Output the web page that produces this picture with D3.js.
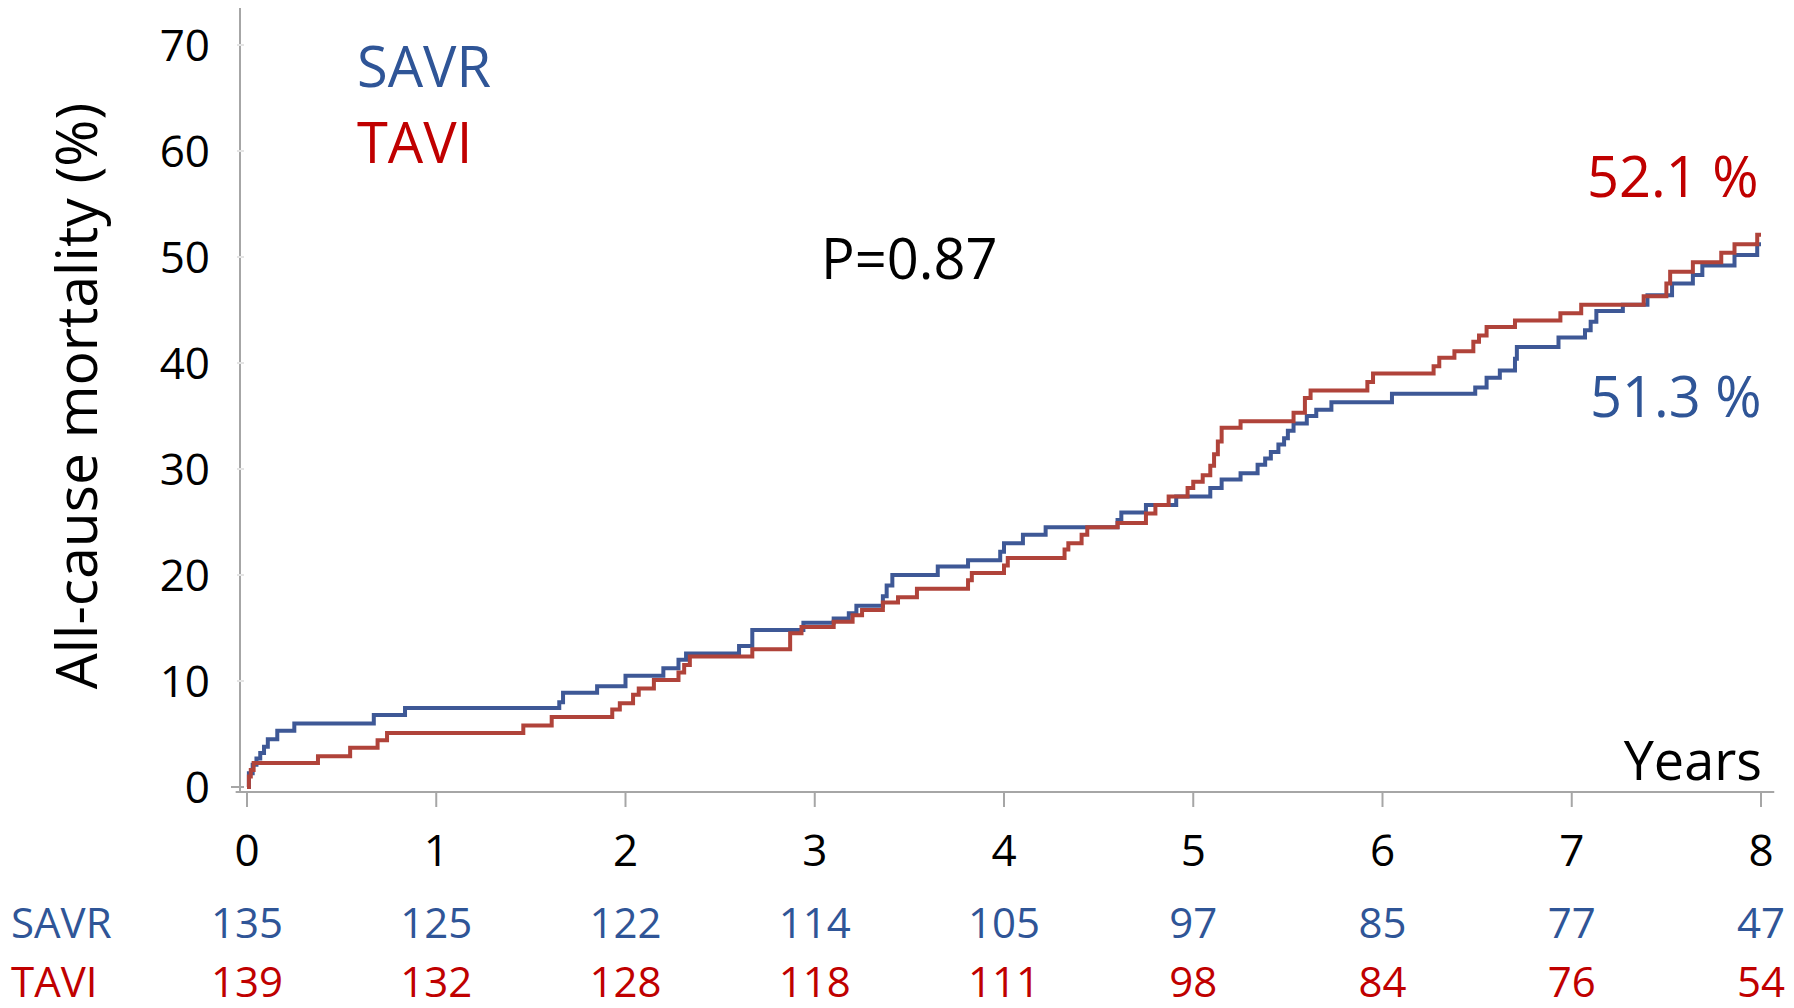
<!DOCTYPE html>
<html>
    <head>
        <script src="https://cdnjs.cloudflare.com/ajax/libs/d3/7.8.5/d3.min.js"></script>
        <title>All-cause mortality</title>

        <style>

            html, body {
                height: 100%;
                margin: 0;
                background-color: white;
            }

            .svg_canvas {
                display: block;
                font-family: "Open Sans", "DejaVu Sans", sans-serif;
            }

        </style>
    </head>
    <body>
        <svg height="1008" width="1794" class="svg_canvas">
        </svg>

        <script>

            // Kaplan-Meier steps: [years, mortality %]
            var savrSteps = [
                [0, 0], [0.01, 1.3], [0.03, 2.1], [0.05, 2.7], [0.07, 3.2], [0.09, 3.8], [0.11, 4.5],
                [0.16, 5.3], [0.25, 6.0], [0.67, 6.8], [0.835, 7.45], [1.65, 8.0], [1.67, 8.9],
                [1.85, 9.5], [2.0, 10.5], [2.2, 11.2], [2.28, 12.0], [2.32, 12.6], [2.60, 13.3],
                [2.67, 14.8], [2.94, 15.5], [3.10, 15.9], [3.18, 16.4], [3.22, 17.1], [3.36, 18.0],
                [3.38, 19.0], [3.41, 20.0], [3.65, 20.8], [3.81, 21.4], [3.98, 22.2], [4.0, 23.0],
                [4.10, 23.8], [4.22, 24.5], [4.60, 25.2], [4.62, 25.9], [4.75, 26.6], [4.91, 27.4],
                [5.09, 28.2], [5.15, 29.0], [5.25, 29.6], [5.34, 30.4], [5.38, 31.0], [5.41, 31.6],
                [5.45, 32.3], [5.48, 32.9], [5.50, 33.6], [5.53, 34.3], [5.60, 35.0], [5.65, 35.6],
                [5.73, 36.3], [6.05, 37.1], [6.49, 37.7], [6.55, 38.6], [6.62, 39.3], [6.70, 40.4],
                [6.71, 41.5], [6.93, 42.4], [7.07, 43.1], [7.10, 43.9], [7.13, 44.9], [7.27, 45.5],
                [7.40, 46.4], [7.53, 47.5], [7.64, 48.3], [7.69, 49.2], [7.86, 50.2], [7.98, 51.2],
                [8.0, 51.2]
            ];

            var taviSteps = [
                [0, 0], [0.01, 1.0], [0.02, 1.6], [0.035, 2.26], [0.375, 2.9], [0.545, 3.7],
                [0.69, 4.4], [0.74, 5.1], [1.46, 5.8], [1.61, 6.6], [1.93, 7.3], [1.97, 7.9],
                [2.04, 8.7], [2.07, 9.3], [2.15, 10.1], [2.28, 10.8], [2.31, 11.5], [2.34, 12.3],
                [2.67, 13.0], [2.87, 14.5], [2.93, 15.1], [3.10, 15.6], [3.20, 16.2], [3.25, 16.7],
                [3.36, 17.4], [3.44, 17.9], [3.54, 18.7], [3.81, 19.5], [3.83, 20.2], [4.0, 20.9],
                [4.02, 21.6], [4.32, 22.4], [4.34, 23.0], [4.41, 23.8], [4.44, 24.5], [4.60, 24.9],
                [4.75, 25.8], [4.80, 26.6], [4.87, 27.4], [4.97, 28.2], [5.0, 28.8], [5.05, 29.4],
                [5.09, 30.3], [5.11, 31.4], [5.13, 32.6], [5.15, 33.9], [5.25, 34.5], [5.53, 35.3],
                [5.59, 36.7], [5.62, 37.4], [5.92, 38.2], [5.95, 39.0], [6.27, 39.7], [6.30, 40.5],
                [6.38, 41.1], [6.48, 42.0], [6.51, 42.6], [6.55, 43.4], [6.70, 44.0], [6.94, 44.7],
                [7.05, 45.5], [7.38, 46.3], [7.50, 47.5], [7.52, 48.6], [7.64, 49.5], [7.79, 50.4],
                [7.86, 51.2], [7.98, 52.1], [8.0, 52.1]
            ];

            var yearTicks = [0, 1, 2, 3, 4, 5, 6, 7, 8];
            var mortalityTicks = [0, 10, 20, 30, 40, 50, 60, 70];

            var atRiskSavr = [135, 125, 122, 114, 105, 97, 85, 77, 47];
            var atRiskTavi = [139, 132, 128, 118, 111, 98, 84, 76, 54];

            var finalLabels = ["52.1 %", "51.3 %"];

            var blueText = "#2f5597",
                redText = "#c00000",
                blueLine = "#3e5896",
                redLine = "#b0433a",
                axisGray = "#a6a6a6";

            var svg = d3.select("svg");

            var x = d3.scaleLinear().domain([0, 8]).range([247, 1761]);
            var y = d3.scaleLinear().domain([0, 70]).range([787, 45]);

            // axes
            svg.append("line")
                .attr("x1", 240).attr("x2", 240)
                .attr("y1", y(73.5)).attr("y2", y(-0.47))
                .attr("stroke", axisGray)
                .attr("stroke-width", 2);

            svg.append("line")
                .attr("x1", x(-0.06)).attr("x2", x(8.07))
                .attr("y1", y(-0.47)).attr("y2", y(-0.47))
                .attr("stroke", axisGray)
                .attr("stroke-width", 2);

            svg.selectAll(".xtick")
                .data(yearTicks)
                .enter()
                .append("line")
                .attr("class", "xtick")
                .attr("x1", function(d){ return x(d); })
                .attr("x2", function(d){ return x(d); })
                .attr("y1", y(-0.47))
                .attr("y2", y(-0.47) + 15)
                .attr("stroke", axisGray)
                .attr("stroke-width", 2);

            svg.selectAll(".ytick")
                .data(mortalityTicks)
                .enter()
                .append("line")
                .attr("class", "ytick")
                .attr("x1", function(d){ return d === 0 ? 231 : 237; })
                .attr("x2", 244)
                .attr("y1", function(d){ return y(d); })
                .attr("y2", function(d){ return y(d); })
                .attr("stroke", function(d){ return d === 0 ? axisGray : "#e4e4e4"; })
                .attr("stroke-width", 2);

            svg.selectAll(".ylabel")
                .data(mortalityTicks)
                .enter()
                .append("text")
                .attr("class", "ylabel")
                .attr("x", 210)
                .attr("y", function(d){ return y(d) + 16; })
                .attr("text-anchor", "end")
                .style("font-size", "44px")
                .text(function(d){ return d; });

            svg.selectAll(".xlabel")
                .data(yearTicks)
                .enter()
                .append("text")
                .attr("class", "xlabel")
                .attr("x", function(d){ return x(d); })
                .attr("y", 866)
                .attr("text-anchor", "middle")
                .style("font-size", "44px")
                .text(function(d){ return d; });

            svg.append("text")
                .attr("transform", "translate(97,396) rotate(-90)")
                .attr("text-anchor", "middle")
                .style("font-size", "57px")
                .text("All-cause mortality (%)");

            svg.append("text")
                .attr("x", 1762)
                .attr("y", 780)
                .attr("text-anchor", "end")
                .style("font-size", "54px")
                .text("Years");

            // curves
            var line = d3.line()
                .curve(d3.curveStepAfter)
                .x(function(d){ return x(d[0]); })
                .y(function(d){ return y(d[1]); });

            svg.append("path")
                .datum(savrSteps)
                .attr("d", line)
                .attr("fill", "none")
                .attr("stroke", blueLine)
                .attr("stroke-width", 4);

            svg.append("path")
                .datum(taviSteps)
                .attr("d", line)
                .attr("fill", "none")
                .attr("stroke", redLine)
                .attr("stroke-width", 4);

            // legend and annotations
            svg.append("text")
                .attr("x", 357).attr("y", 87)
                .attr("fill", blueText)
                .style("font-size", "56px")
                .text("SAVR");

            svg.append("text")
                .attr("x", 357).attr("y", 163)
                .attr("fill", redText)
                .style("font-size", "56px")
                .text("TAVI");

            svg.append("text")
                .attr("x", 821).attr("y", 279)
                .style("font-size", "56px")
                .text("P=0.87");

            svg.append("text")
                .attr("x", 1587).attr("y", 197)
                .attr("fill", redText)
                .style("font-size", "56px")
                .text(finalLabels[0]);

            svg.append("text")
                .attr("x", 1590).attr("y", 417)
                .attr("fill", blueText)
                .style("font-size", "56px")
                .text(finalLabels[1]);

            // numbers at risk
            svg.append("text")
                .attr("x", 11).attr("y", 938)
                .attr("fill", blueText)
                .style("font-size", "42px")
                .text("SAVR");

            svg.append("text")
                .attr("x", 11).attr("y", 997)
                .attr("fill", redText)
                .style("font-size", "42px")
                .text("TAVI");

            svg.selectAll(".risk-savr")
                .data(atRiskSavr)
                .enter()
                .append("text")
                .attr("class", "risk-savr")
                .attr("x", function(d, i){ return x(yearTicks[i]); })
                .attr("y", 938)
                .attr("text-anchor", "middle")
                .attr("fill", blueText)
                .style("font-size", "42px")
                .text(function(d){ return d; });

            svg.selectAll(".risk-tavi")
                .data(atRiskTavi)
                .enter()
                .append("text")
                .attr("class", "risk-tavi")
                .attr("x", function(d, i){ return x(yearTicks[i]); })
                .attr("y", 997)
                .attr("text-anchor", "middle")
                .attr("fill", redText)
                .style("font-size", "42px")
                .text(function(d){ return d; });

        </script>
    </body>
</html>
